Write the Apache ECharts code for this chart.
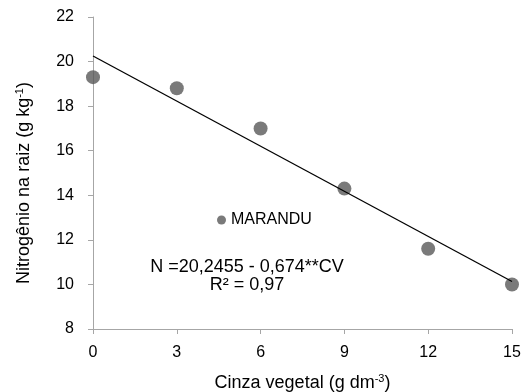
<!DOCTYPE html>
<html>
<head>
<meta charset="utf-8">
<script src="https://cdn.jsdelivr.net/npm/echarts@6/dist/echarts.min.js"></script>
<style>
  html, body { margin: 0; padding: 0; background: #fff; }
  #chart { width: 527px; height: 392px; }
</style>
</head>
<body>
<div id="chart"></div>
<script>
// cinza vegetal doses and measured N in roots
const doses = [0, 3, 6, 9, 12, 15];
const nitrogen = [19.3, 18.8, 17.0, 14.3, 11.6, 10.0];
// fitted line endpoints (N = 20,2455 - 0,674 CV)
const fitX = [0, 15];
const fitY = [20.25, 10.13];

const axisGray = "#a6a6a6";
const font = "Liberation Sans, Arial, sans-serif";

const chart = echarts.init(document.getElementById("chart"));
chart.setOption({
  animation: false,
  textStyle: { fontFamily: font },
  grid: { left: 93, right: 15, top: 17, bottom: 63, outerBoundsMode: "none" },
  legend: {
    left: 217,
    top: 212,
    padding: 0,
    icon: "circle",
    itemWidth: 9,
    itemHeight: 9,
    data: ["MARANDU"],
    textStyle: { fontSize: 16, color: "#000", fontFamily: font }
  },
  xAxis: {
    type: "value",
    min: 0,
    max: 15,
    interval: 3,
    splitLine: { show: false },
    axisLine: { lineStyle: { color: axisGray } },
    axisTick: { length: 5, lineStyle: { color: axisGray } },
    axisLabel: { color: "#000", fontSize: 16, margin: 16 },
    name: "{a|Cinza vegetal (g dm}{s|-3}{a|)}",
    nameLocation: "middle",
    nameGap: 44,
    nameTextStyle: {
      rich: {
        a: { fontSize: 18, color: "#000", lineHeight: 20, fontFamily: font },
        s: { fontSize: 11, color: "#000", verticalAlign: "top", lineHeight: 20, fontFamily: font }
      }
    }
  },
  yAxis: {
    type: "value",
    min: 8,
    max: 22,
    interval: 2,
    splitLine: { show: false },
    axisLine: { show: true, lineStyle: { color: axisGray } },
    axisTick: { show: true, length: 5, lineStyle: { color: axisGray } },
    axisLabel: { color: "#000", fontSize: 16, margin: 19 },
    name: "{a|Nitrogênio na raiz (g kg}{s|-1}{a|)}",
    nameLocation: "middle",
    nameGap: 59,
    nameTextStyle: {
      padding: [0, 20, 0, 0],
      rich: {
        a: { fontSize: 18, color: "#000", lineHeight: 20, fontFamily: font },
        s: { fontSize: 11, color: "#000", verticalAlign: "top", lineHeight: 20, fontFamily: font }
      }
    }
  },
  graphic: [
    {
      type: "text",
      x: 247,
      y: 258,
      style: {
        text: "N =20,2455 - 0,674**CV\nR² = 0,97",
        textAlign: "center",
        fontSize: 18,
        lineHeight: 18,
        fontFamily: font,
        fill: "#000"
      }
    }
  ],
  series: [
    {
      name: "MARANDU",
      type: "scatter",
      symbolSize: 14,
      itemStyle: { color: "#595959" },
      data: doses.map((d, i) => [d, nitrogen[i]]),
      z: 3
    },
    {
      name: "fit",
      type: "line",
      symbol: "none",
      silent: true,
      lineStyle: { color: "#000", width: 1.3 },
      data: fitX.map((x, i) => [x, fitY[i]]),
      z: 4
    }
  ]
});
</script>
</body>
</html>
